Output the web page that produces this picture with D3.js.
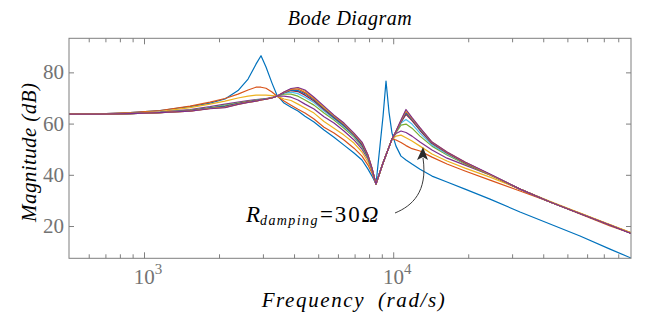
<!DOCTYPE html>
<html>
<head>
<meta charset="utf-8">
<script src="https://cdnjs.cloudflare.com/ajax/libs/d3/7.8.5/d3.min.js"></script>
<style>
  body { margin: 0; background: #fff; }
  svg text { font-family: "Liberation Serif", "DejaVu Serif", serif; }
</style>
</head>
<body>
<script>
var W = 646, H = 320;

// frequency grid (rad/s)
var freq = [500, 666, 879, 1160, 1530, 1840, 2113, 2384, 2615, 2814, 2948, 3087, 3263, 3417,
            3646, 3890, 4148, 4426, 4810, 5276, 5786, 6345, 6960, 7495, 7921, 8220, 8529,
            8851, 9100, 9357, 9618, 9888, 10261, 10747, 11254, 11896, 12807, 14310, 16440,
            19420, 24460, 32270, 42590, 56190, 74130, 90000];

// magnitude (dB), one array per damping value
var mag0 = [63.7, 63.8, 64.3, 65.1, 66.6, 68.0, 69.6, 72.9, 77.4, 83.2, 86.5, 82.1, 75.8, 71.1,
            68.0, 66.4, 64.9, 62.9, 60.6, 57.5, 54.7, 51.6, 48.5, 45.8, 42.2, 39.5, 36.4,
            51.4, 62.7, 76.6, 64.5, 56.3, 51.2, 47.3, 45.8, 44.2, 42.2, 39.5, 37.2,
            34.4, 30.5, 25.5, 20.8, 16.1, 11.0, 7.5];
var mag1 = [63.7, 63.8, 64.3, 65.1, 66.8, 68.4, 69.8, 71.5, 73.1, 74.2, 74.2, 73.8, 72.3, 70.7,
            68.8, 67.2, 65.6, 64.1, 61.8, 58.6, 56.3, 53.6, 50.4, 47.3, 43.8, 40.7, 36.4,
            41.1, 44.6, 47.7, 50.8, 54.0, 53.6, 52.6, 51.4, 50.2, 49.3, 46.9, 44.2,
            41.5, 37.9, 33.7, 29.4, 24.7, 20.0, 17.2];
var mag2 = [63.7, 63.7, 64.1, 64.7, 66.2, 67.6, 68.8, 70.0, 70.7, 71.1, 71.1, 71.1, 70.9, 70.7,
            69.6, 69.0, 67.6, 66.1, 64.1, 60.8, 58.2, 55.5, 52.4, 48.9, 45.0, 41.5, 36.4,
            41.1, 44.6, 47.7, 50.8, 54.0, 55.1, 55.5, 54.5, 53.2, 51.2, 48.1, 45.4,
            42.6, 39.1, 34.4, 29.7, 25.1, 20.4, 17.4];
var mag3 = [63.7, 63.7, 64.0, 64.5, 65.5, 66.6, 67.6, 68.4, 69.0, 69.4, 69.6, 69.8, 70.2, 70.7,
            70.7, 70.3, 69.2, 67.6, 65.7, 62.7, 60.2, 57.1, 53.6, 50.0, 46.1, 41.9, 36.4,
            41.1, 44.6, 47.7, 50.8, 54.0, 56.1, 57.1, 56.5, 55.1, 52.8, 49.7, 46.5,
            43.8, 39.9, 34.4, 29.4, 24.9, 20.4, 17.2];
var mag4 = [63.7, 63.7, 63.9, 64.4, 65.3, 66.2, 67.2, 68.1, 68.7, 69.2, 69.5, 69.7, 70.1, 70.7,
            71.5, 71.5, 70.7, 69.2, 67.2, 64.1, 61.4, 58.2, 54.7, 50.8, 46.5, 42.2, 36.4,
            41.1, 44.6, 47.7, 50.8, 54.0, 56.5, 59.4, 59.8, 58.2, 55.1, 51.2, 47.7,
            44.2, 39.9, 34.4, 29.4, 24.9, 20.4, 17.2];
var mag5 = [63.7, 63.7, 63.9, 64.4, 65.1, 66.1, 66.9, 67.9, 68.5, 69.1, 69.4, 69.6, 70.1, 70.7,
            71.9, 72.3, 71.7, 70.3, 68.2, 64.9, 61.9, 58.8, 55.1, 51.2, 46.9, 42.2, 36.4,
            41.1, 44.6, 47.7, 50.8, 54.0, 56.7, 60.2, 61.6, 59.8, 56.3, 51.6, 48.1,
            44.6, 40.1, 34.4, 29.4, 24.9, 20.4, 17.2];
var mag6 = [63.7, 63.7, 63.9, 64.3, 65.1, 66.0, 66.7, 67.8, 68.5, 69.0, 69.3, 69.6, 70.1, 70.7,
            72.1, 72.9, 72.5, 71.1, 68.8, 65.5, 62.3, 59.2, 55.5, 51.6, 47.1, 42.4, 36.4,
            41.1, 44.6, 47.7, 50.8, 54.0, 56.8, 60.6, 63.6, 61.2, 57.3, 52.2, 48.5,
            44.6, 40.1, 34.4, 29.4, 24.9, 20.4, 17.2];
var mag7 = [63.7, 63.7, 63.9, 64.3, 65.0, 66.0, 66.6, 67.7, 68.4, 68.9, 69.3, 69.6, 70.1, 70.7,
            72.1, 73.1, 72.9, 71.7, 69.2, 65.9, 62.5, 59.4, 55.7, 52.0, 47.3, 42.4, 36.4,
            41.1, 44.6, 47.7, 50.8, 54.0, 56.8, 60.8, 64.2, 61.6, 57.7, 52.4, 48.7,
            44.8, 40.1, 34.4, 29.4, 24.9, 20.4, 17.2];
var mag8 = [63.7, 63.7, 63.9, 64.3, 64.9, 65.9, 66.4, 67.6, 68.4, 68.8, 69.2, 69.5, 70.1, 70.7,
            72.2, 73.3, 73.5, 72.1, 69.6, 66.2, 62.9, 59.8, 55.9, 52.4, 47.5, 42.6, 36.4,
            41.1, 44.6, 47.7, 50.8, 54.0, 56.9, 61.0, 64.8, 61.9, 58.1, 52.6, 48.7,
            44.8, 40.1, 34.4, 29.4, 24.9, 20.4, 17.2];
var mag9 = [63.7, 63.7, 63.9, 64.3, 64.9, 65.9, 66.3, 67.5, 68.3, 68.8, 69.2, 69.5, 70.1, 70.7,
            72.3, 73.5, 73.9, 72.7, 70.0, 66.4, 63.1, 60.0, 56.1, 52.6, 47.7, 42.6, 36.4,
            41.1, 44.6, 47.7, 50.8, 54.0, 57.0, 61.2, 65.2, 62.1, 58.2, 52.8, 48.9,
            45.0, 40.1, 34.4, 29.4, 25.1, 20.6, 17.4];
var mag10 = [63.7, 63.7, 63.9, 64.3, 64.9, 65.8, 66.2, 67.5, 68.3, 68.8, 69.2, 69.5, 70.0, 70.7,
             72.3, 73.7, 74.1, 73.1, 70.3, 66.8, 63.3, 60.2, 56.3, 52.8, 47.7, 42.6, 36.4,
             41.1, 44.6, 47.7, 50.8, 54.0, 57.1, 61.4, 65.5, 62.3, 58.4, 52.8, 48.9,
             45.0, 40.3, 34.4, 29.4, 24.9, 20.4, 17.1];

var series = [mag0, mag1, mag2, mag3, mag4, mag5, mag6, mag7, mag8, mag9, mag10];
var colors = ["#0072BD", "#D95319", "#EDB120", "#7E2F8E", "#77AC30", "#4DBEEE", "#A2142F"];

var yTicks = [20, 40, 60, 80];
var xMajor = [1e3, 1e4];
var xMajorExp = ["3", "4"];

var m = {left: 69, right: 631, top: 38.3, bottom: 258.3};

var svg = d3.select("body").append("svg")
            .attr("width", W)
            .attr("height", H);

var x = d3.scaleLog().domain([500, 90000]).range([m.left, m.right]);
var y = d3.scaleLinear().domain([7.4, 93.3]).range([m.bottom, m.top]);

svg.append("clipPath").attr("id", "clip")
   .append("rect")
   .attr("x", m.left).attr("y", m.top)
   .attr("width", m.right - m.left).attr("height", m.bottom - m.top);

var line = d3.line()
             .x(function(d, i) { return x(freq[i]); })
             .y(function(d) { return y(d); });

svg.append("g").attr("clip-path", "url(#clip)")
   .selectAll("path.curve")
   .data(series)
   .enter()
   .append("path")
   .attr("class", "curve")
   .attr("d", line)
   .attr("fill", "none")
   .attr("stroke", function(d, i) { return colors[i % colors.length]; })
   .attr("stroke-width", 1.2)
   .attr("stroke-linejoin", "round");

// axes box with inward ticks (matlab style)
var axisCol = "#7f7f7f";
var minor = [];
[100, 1000, 10000].forEach(function(dec) {
  for (var k = 2; k <= 9; k++) {
    var v = dec * k;
    if (v > 500 && v < 90000) minor.push(v);
  }
});

var ax = svg.append("g");
ax.append("g").attr("transform", "translate(0," + m.bottom + ")")
  .call(d3.axisBottom(x).tickValues(xMajor).tickSize(-6).tickFormat(""));
ax.append("g").attr("transform", "translate(0," + m.bottom + ")")
  .call(d3.axisBottom(x).tickValues(minor).tickSize(-4).tickFormat(""));
ax.append("g").attr("transform", "translate(0," + m.top + ")")
  .call(d3.axisTop(x).tickValues(xMajor).tickSize(-6).tickFormat(""));
ax.append("g").attr("transform", "translate(0," + m.top + ")")
  .call(d3.axisTop(x).tickValues(minor).tickSize(-4).tickFormat(""));
ax.append("g").attr("transform", "translate(" + m.left + ",0)")
  .call(d3.axisLeft(y).tickValues(yTicks).tickSize(-5).tickFormat(""));
ax.append("g").attr("transform", "translate(" + m.right + ",0)")
  .call(d3.axisRight(y).tickValues(yTicks).tickSize(-5).tickFormat(""));
ax.selectAll(".domain").remove();
ax.selectAll("line").attr("stroke", axisCol);

svg.append("rect")
   .attr("x", m.left).attr("y", m.top)
   .attr("width", m.right - m.left).attr("height", m.bottom - m.top)
   .attr("fill", "none").attr("stroke", axisCol).attr("stroke-width", 1);

// tick labels
var labCol = "#737373";
svg.selectAll("text.ylab")
   .data(yTicks)
   .enter()
   .append("text")
   .attr("class", "ylab")
   .attr("x", m.left - 5)
   .attr("y", function(d) { return y(d) + 7; })
   .attr("text-anchor", "end")
   .attr("font-size", 21)
   .attr("fill", labCol)
   .text(function(d) { return d; });

var xl = svg.selectAll("text.xlab")
   .data(xMajor)
   .enter()
   .append("text")
   .attr("class", "xlab")
   .attr("x", function(d) { return x(d) + 4; })
   .attr("y", m.bottom + 26)
   .attr("text-anchor", "middle")
   .attr("font-size", 21)
   .attr("fill", labCol);
xl.append("tspan").text("10");
xl.append("tspan").attr("dy", -10).attr("font-size", 15)
  .text(function(d, i) { return xMajorExp[i]; });

// titles
svg.append("text")
   .attr("x", 350).attr("y", 25)
   .attr("text-anchor", "middle")
   .attr("font-size", 20).attr("font-style", "italic")
   .attr("letter-spacing", 0.5)
   .text("Bode Diagram");

svg.append("text")
   .attr("x", 354).attr("y", 307)
   .attr("text-anchor", "middle")
   .attr("font-size", 21).attr("font-style", "italic")
   .attr("letter-spacing", 1.6)
   .attr("word-spacing", 6)
   .text("Frequency (rad/s)");

svg.append("text")
   .attr("transform", "translate(36," + ((m.top + m.bottom) / 2 + 4) + ") rotate(-90)")
   .attr("text-anchor", "middle")
   .attr("font-size", 21).attr("font-style", "italic")
   .attr("letter-spacing", 0.4)
   .text("Magnitude (dB)");

// annotation
var ann = svg.append("text")
   .attr("x", 246).attr("y", 222)
   .attr("font-size", 23);
ann.append("tspan").attr("font-style", "italic").text("R");
ann.append("tspan").attr("font-style", "italic").attr("font-size", 14)
   .attr("letter-spacing", 1.4).attr("dy", 3).text("damping");
ann.append("tspan").attr("dy", -3).attr("dx", 1).attr("letter-spacing", 2).text("=30");
ann.append("tspan").attr("font-style", "italic").text("Ω");

svg.append("path")
   .attr("d", "M395,213 C412,206 428,192 423,158")
   .attr("fill", "none")
   .attr("stroke", "#3a3a3a")
   .attr("stroke-width", 1);
svg.append("path")
   .attr("d", "M423,147 L428,160 L423,157 L417,160 Z")
   .attr("fill", "#2b2b2b");
</script>
</body>
</html>
